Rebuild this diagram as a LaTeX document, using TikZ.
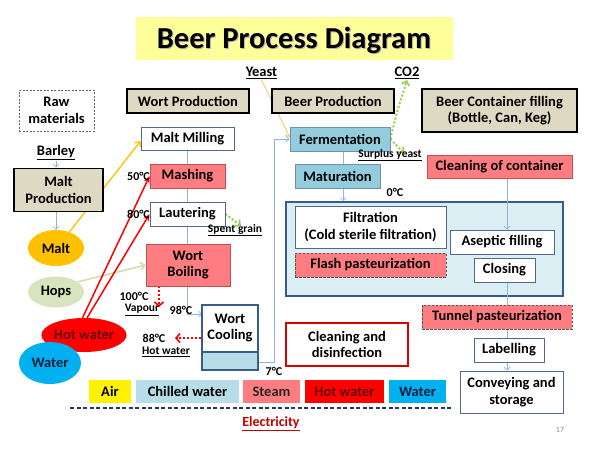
\documentclass[tikz,border=0pt]{standalone}
\usepackage{fontspec}
\setmainfont{Carlito}
\usetikzlibrary{arrows.meta,calc,shapes.geometric}
\pgfdeclarelayer{bg}
\pgfdeclarelayer{mid}
\pgfsetlayers{bg,mid,main}
\definecolor{tanc}{HTML}{DDD9C3}
\definecolor{stm}{HTML}{FF7C80}
\definecolor{stmb}{HTML}{C0504D}
\definecolor{fermc}{HTML}{93CDDD}
\definecolor{chill}{HTML}{B7DEE8}
\definecolor{bigc}{HTML}{DBEEF4}
\definecolor{navy}{HTML}{385D8A}
\definecolor{bxc}{HTML}{4F6A8C}
\definecolor{lnc}{HTML}{8EB4E3}
\definecolor{wat}{HTML}{00B0F0}
\definecolor{hopc}{HTML}{D7E4BD}
\definecolor{hopl}{HTML}{D0DDB5}
\definecolor{maltc}{HTML}{FFC000}
\definecolor{yeastc}{HTML}{F4C56A}
\definecolor{grn}{HTML}{92D050}
\definecolor{titley}{HTML}{FFFF99}
\definecolor{elec}{HTML}{C00000}
\definecolor{dashc}{HTML}{1F3864}
\definecolor{hwtext}{HTML}{660000}
\definecolor{wtext}{HTML}{0B1F3A}
\tikzset{
  f13/.style={font=\bfseries\fontsize{14.5}{16.5}\selectfont},
  f11/.style={font=\bfseries\fontsize{12}{14}\selectfont},
  f10/.style={font=\bfseries\fontsize{11.5}{13}\selectfont},
  sz/.style 2 args={minimum width=#1, minimum height=#2},
  box/.style={draw=bxc, line width=0.8pt, fill=white, inner sep=0pt, align=center, f13},
  hdr/.style={draw=black, line width=1.8pt, fill=tanc, inner sep=0pt, align=center, f13},
  stbox/.style={box, fill=stm, draw=stmb},
  stdash/.style={box, fill=stm, draw=black!65, dash pattern=on 2.5pt off 1.5pt},
  blbox/.style={box, fill=fermc, draw=navy!70},
  blob/.style={ellipse, inner sep=0pt, f13},
  lab/.style={inner sep=1pt, f13},
  leg/.style={inner sep=0pt, f13, minimum height=23},
  conn/.style={draw=lnc, line width=0.7pt, -{Straight Barb[length=3pt,width=6pt]}},
  redarr/.style={draw=red, line width=1.5pt, -{Stealth[length=7pt,width=6pt]}},
  reddot/.style={draw=red, line width=2pt, dotted, -{Straight Barb[length=4pt,width=9pt,line width=1.6pt]}},
  grndot/.style={draw=grn, line width=2pt, dotted, -{Straight Barb[length=4pt,width=8pt,line width=1.6pt]}}
}
\begin{document}
\begin{tikzpicture}[x=1pt,y=-1pt]
\useasboundingbox (0,0) rectangle (600,450);
\begin{pgfonlayer}{bg}
\fill[white] (0,0) rectangle (600,450);
\node[draw=navy, line width=2pt, fill=bigc, sz={277}{94}, inner sep=0pt] (big) at (424.5,249) {};
\end{pgfonlayer}
% title
\fill[titley] (136,17) rectangle (453,60);
\node[font=\bfseries\fontsize{30.5}{34}\selectfont, text=black!30] (titles) at (295,41) {Beer Process Diagram};
\node[font=\bfseries\fontsize{30.5}{34}\selectfont] (title) at (294,40) {Beer Process Diagram};
% top labels
\node[lab] (yeast) at (261.5,73) {\underline{Yeast}};
\node[lab] (co2) at (407,73) {\underline{CO2}};
% headers
\node[box, draw=black!60, dash pattern=on 2pt off 1.5pt, sz={75}{41}] (raw) at (56.5,110.5) {Raw\\materials};
\node[hdr, sz={122}{24}] (wortp) at (188,101) {Wort Production};
\node[hdr, sz={122}{24}] (beerp) at (333,101) {Beer Production};
\node[hdr, sz={155}{43}] (beerc) at (499.5,110.5) {Beer Container filling\\(Bottle, Can, Keg)};
% left column
\node[lab] (barley) at (56,153) {\underline{Barley}};
\node[hdr, sz={89}{43}] (maltp) at (58.5,190) {Malt\\Production};
\node[blob, fill=maltc, sz={56}{36}] (malt) at (56,248) {Malt};
\node[blob, fill=hopc, sz={56}{31}] (hops) at (56,292) {Hops};
\node[blob, fill=red, text=hwtext, sz={76}{34}] (hotw) at (84,335) {Hot water};
\node[blob, fill=wat, text=wtext, sz={62}{42}] (water) at (50,363) {Water};
% wort production
\node[box, sz={93}{23}] (mill) at (187.5,138.5) {Malt Milling};
\node[stbox, sz={75}{24}] (mash) at (187.5,176) {Mashing};
\node[box, sz={75}{24}] (laut) at (187.5,214) {Lautering};
\node[stbox, sz={84}{42}] (boil) at (188,265) {Wort\\Boiling};
\node[box, draw=navy, line width=1.5pt, sz={56}{65},
  path picture={\fill[chill] (path picture bounding box.south west) rectangle ([yshift=18pt]path picture bounding box.south east);
  \draw[navy, line width=1.2pt] ([yshift=18pt]path picture bounding box.south west) -- ([yshift=18pt]path picture bounding box.south east);}] (cool) at (230,337.5) {};
\node[f13, align=center, inner sep=0pt] (coolt) at (230,328) {Wort\\Cooling};
\node[f11, anchor=east, inner sep=0pt] (t50) at (150,176) {50°C};
\node[f11, anchor=east, inner sep=0pt] (t80) at (150,214) {80°C};
\node[f10, inner sep=1pt] (spent) at (235,230) {\underline{Spent grain}};
\node[f11, inner sep=0pt] (t100) at (134,296) {100°C};
\node[f10, inner sep=1pt] (vapour) at (142,310) {\underline{Vapour}};
\node[f11, inner sep=0pt] (t98) at (181,310) {98°C};
\node[f11, inner sep=0pt] (t88) at (154,338) {88°C};
\node[f10, inner sep=1pt] (hwlab) at (166,352) {\underline{Hot water}};
\node[f11, inner sep=0pt] (t7) at (274,371) {7°C};
% beer production
\node[blbox, sz={100}{24}] (ferm) at (340,139) {Fermentation};
\node[blbox, sz={85}{24}] (matur) at (337.5,176) {Maturation};
\node[f10, inner sep=1pt] (surplus) at (390,155) {\underline{Surplus yeast}};
\node[f11, inner sep=0pt] (t0) at (395,192) {0°C};
\node[box, sz={151}{42}] (filt) at (370.5,227) {Filtration\\(Cold sterile filtration)};
\node[stdash, sz={151}{24}] (flash) at (370.5,265) {Flash pasteurization};
\node[box, draw=red!85!black, line width=1.5pt, sz={122}{43}] (cleand) at (347,344.5) {Cleaning and\\disinfection};
% container filling
\node[stbox, sz={145}{23}] (cleanc) at (499.5,166.5) {Cleaning of container};
\node[box, sz={104}{24}] (asep) at (502,242) {Aseptic filling};
\node[box, sz={61}{24}] (close) at (504.5,270) {Closing};
\node[stdash, sz={150}{24}] (tunnel) at (497,317) {Tunnel pasteurization};
\node[box, sz={70}{24}] (label) at (509,350) {Labelling};
\node[box, sz={103}{42}] (convey) at (511.5,392) {Conveying and\\storage};
% legend
\node[leg, fill=yellow, minimum width=42] (lair) at (110,391.5) {Air};
\node[leg, fill=chill, minimum width=103] (lchill) at (187.5,391.5) {Chilled water};
\node[leg, fill=stm, text=black!85, minimum width=57] (lsteam) at (271.5,391.5) {Steam};
\node[leg, fill=red, text=hwtext, minimum width=79] (lhot) at (344.5,391.5) {Hot water};
\node[leg, fill=wat, text=wtext, minimum width=57] (lwater) at (417.5,391.5) {Water};
\coordinate (dl) at (70,408);
\coordinate (dr) at (453,408);
\draw[dashc, line width=1.5pt, dash pattern=on 4pt off 2.5pt] (dl) -- (dr);
\node[font=\bfseries\fontsize{14}{16}\selectfont, text=elec, inner sep=1pt] (elec) at (271,424) {\underline{Electricity}};
\node[font=\fontsize{8}{10}\selectfont, text=black!45] (pnum) at (560,430) {17};
% helper coordinates
\coordinate (c98) at (202,314);
\coordinate (cout) at (258,362);
\coordinate (x507) at (507,0);
\coordinate (x343) at (343,0);
\coordinate (vap) at (159,307);
\coordinate (hw88) at (175,338);
\coordinate (sg) at (241,226);
\coordinate (sy) at (404,153);
% connectors
\begin{pgfonlayer}{mid}
\draw[conn] (barley.south) -- (barley.south |- maltp.north);
\draw[conn] (maltp.south -| malt.north) -- (malt.north);
\draw[draw=maltc, line width=1.3pt, -{Straight Barb[length=4pt,width=7pt]}] (malt.50) -- ([yshift=-2.5pt]mill.west);
\draw[draw=hopl, line width=1.6pt, -{Straight Barb[length=4pt,width=8pt]}] (hops.25) -- (boil.west);
\draw[redarr] (hotw.95) -- (mash.west);
\draw[redarr] (hotw.80) -- (laut.west);
\draw[conn] (mill.south) |- (c98);
\draw[reddot] ([xshift=-29pt]boil.south) -- (vap);
\draw[reddot] (cool.west |- hw88) -- (hw88);
\draw[grndot] (laut.east) -- (sg);
\draw[conn] (cout) -| ($(ferm.west)+(-15,0)$) -- (ferm.west);
\draw[draw=yeastc, line width=0.8pt, -{Straight Barb[length=3pt,width=6pt]}] (yeast.south) -- ([yshift=2pt]ferm.west);
\draw[grndot] (ferm.east) .. controls (396,115) .. (co2.south);
\draw[grndot] (ferm.east) -- (sy);
\draw[conn] (ferm.south -| x343) -- (big.north -| x343);
\draw[conn] (cleanc.south -| x507) -- (asep.north -| x507);
\draw[conn] (close.south -| x507) -- (convey.north -| x507);
\end{pgfonlayer}
\end{tikzpicture}
\end{document}
